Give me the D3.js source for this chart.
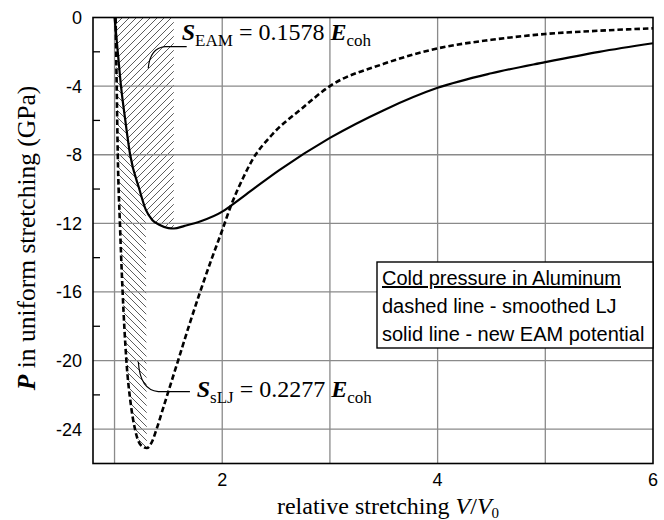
<!DOCTYPE html>
<html>
<head>
<meta charset="utf-8">
<script src="https://cdn.jsdelivr.net/npm/d3@7"></script>
<style>
  body { margin: 0; background: #fff; }
  svg { display: block; }
</style>
</head>
<body>
<svg id="chart" width="664" height="520"></svg>
<script>
// cold pressure curves (V/V0, GPa)
const ljX = [1.01, 1.02, 1.03, 1.05, 1.075, 1.11, 1.15, 1.19, 1.24, 1.3, 1.35, 1.39, 1.45, 1.5, 1.6, 1.7, 1.8, 1.9, 2.0, 2.085, 2.19, 2.28, 2.46, 2.74, 3.0, 3.5, 4.0, 4.5, 5.0, 5.5, 6.0];
const ljP = [0, -4, -8, -12, -16, -20, -22.5, -24, -24.9, -25.1, -24.7, -24.0, -22.8, -21.8, -19.8, -17.8, -15.9, -14.1, -12.4, -10.9, -9.4, -8.3, -6.85, -5.3, -4.0, -2.7, -1.8, -1.3, -0.96, -0.77, -0.63];
const eamX = [1.0, 1.03, 1.06, 1.1, 1.145, 1.23, 1.29, 1.35, 1.42, 1.5, 1.55, 1.65, 1.8, 2.0, 2.085, 2.3, 2.53, 3.0, 3.5, 4.0, 4.5, 5.0, 5.5, 6.0];
const eamP = [0, -2, -4, -6, -8, -10, -11.2, -11.8, -12.1, -12.28, -12.3, -12.15, -11.88, -11.32, -10.95, -9.95, -8.9, -7.02, -5.4, -4.1, -3.25, -2.6, -2.0, -1.5];

// hatched energy areas: upper x limit of each
const eamAreaMax = 1.55;
const ljAreaMax = 1.3;

const xGrid = [1, 2, 3, 4, 5];
const xTickLabels = [2, 4, 6];
const yTickLabels = [0, -4, -8, -12, -16, -20, -24];
const yMinor = [-2, -6, -10, -14, -18, -22];

const legendLines = ["Cold pressure in Aluminum", "dashed line - smoothed LJ", "solid line - new EAM potential"];

const svg = d3.select("#chart");
const margin = { top: 17.5, right: 11, bottom: 56.5, left: 93 };
const W = 664, H = 520;
const width = W - margin.left - margin.right;
const height = H - margin.top - margin.bottom;

const x = d3.scaleLinear().domain([0.8, 6]).range([margin.left, margin.left + width]);
const y = d3.scaleLinear().domain([-26, 0]).range([margin.top + height, margin.top]);

const lj = ljX.map((v, i) => [v, ljP[i]]);
const eam = eamX.map((v, i) => [v, eamP[i]]);

// hatch patterns
const defs = svg.append("defs");
const hatch = (id, d) => {
  defs.append("pattern")
    .attr("id", id)
    .attr("patternUnits", "userSpaceOnUse")
    .attr("width", 7).attr("height", 7)
    .append("path")
    .attr("d", d)
    .attr("stroke", "#333")
    .attr("stroke-width", 0.8);
};
hatch("hatchEam", "M-1,1 l2,-2 M0,7 l7,-7 M6,8 l2,-2");
hatch("hatchLj", "M-1,6 l2,2 M0,0 l7,7 M6,-1 l2,2");

// EAM area: between P = 0 and the solid curve
const eamArea = d3.area()
  .x(d => x(d[0]))
  .y0(y(0))
  .y1(d => y(d[1]))
  .curve(d3.curveMonotoneX);
svg.append("path")
  .datum(eam.filter(d => d[0] <= eamAreaMax))
  .attr("d", eamArea)
  .attr("fill", "url(#hatchEam)");

// sLJ area: between the solid curve and the dashed curve
const ljPoly = eam.filter(d => d[0] <= 1.29)
  .concat(lj.filter(d => d[0] <= ljAreaMax).reverse());
svg.append("path")
  .attr("d", d3.line().x(d => x(d[0])).y(d => y(d[1]))(ljPoly) + "Z")
  .attr("fill", "url(#hatchLj)");

// grid
const grid = svg.append("g").attr("stroke", "#8a8a8a").attr("stroke-width", 1.3);
grid.selectAll(".vx").data(xGrid).join("line")
  .attr("x1", d => x(d)).attr("x2", d => x(d))
  .attr("y1", y(-26)).attr("y2", y(0));
grid.selectAll(".hy").data(yTickLabels.filter(d => d !== 0)).join("line")
  .attr("x1", x(0.8)).attr("x2", x(6))
  .attr("y1", d => y(d)).attr("y2", d => y(d));

// minor ticks on the left frame
svg.append("g").selectAll("line").data(yMinor).join("line")
  .attr("x1", x(0.8)).attr("x2", x(0.8) + 7)
  .attr("y1", d => y(d)).attr("y2", d => y(d))
  .attr("stroke", "#000").attr("stroke-width", 1.3);

// tick labels
const sans = "Liberation Sans, Arial, sans-serif";
svg.append("g").selectAll("text").data(yTickLabels).join("text")
  .attr("x", x(0.8) - 11)
  .attr("y", d => y(d) + 6.5)
  .attr("text-anchor", "end")
  .attr("font-family", sans)
  .attr("font-size", 18)
  .text(d => d);
svg.append("g").selectAll("text").data(xTickLabels).join("text")
  .attr("x", d => x(d))
  .attr("y", y(-26) + 22)
  .attr("text-anchor", "middle")
  .attr("font-family", sans)
  .attr("font-size", 18)
  .text(d => d);

// curves
const line = d3.line()
  .x(d => x(d[0]))
  .y(d => y(d[1]))
  .curve(d3.curveMonotoneX);
svg.append("path")
  .datum(lj)
  .attr("d", line)
  .attr("fill", "none")
  .attr("stroke", "#000")
  .attr("stroke-width", 2.6)
  .attr("stroke-dasharray", "5.5,3");
svg.append("path")
  .datum(eam)
  .attr("d", line)
  .attr("fill", "none")
  .attr("stroke", "#000")
  .attr("stroke-width", 2.2);

// frame
svg.append("rect")
  .attr("x", x(0.8)).attr("y", y(0))
  .attr("width", width).attr("height", height)
  .attr("fill", "none").attr("stroke", "#000").attr("stroke-width", 1.6);

// axis titles
const serif = "Liberation Serif, Times New Roman, serif";
const xt = svg.append("text")
  .attr("x", 388).attr("y", 514)
  .attr("text-anchor", "middle")
  .attr("font-family", serif)
  .attr("font-size", 24);
xt.append("tspan").text("relative stretching ");
xt.append("tspan").attr("font-style", "italic").text("V");
xt.append("tspan").text("/");
xt.append("tspan").attr("font-style", "italic").text("V");
xt.append("tspan").attr("font-size", 15).attr("dy", 4).text("0");

const yt = svg.append("text")
  .attr("transform", `translate(35,238) rotate(-90)`)
  .attr("text-anchor", "middle")
  .attr("font-family", serif)
  .attr("font-size", 25.5);
yt.append("tspan").attr("font-style", "italic").attr("font-weight", "bold").text("P");
yt.append("tspan").text(" in uniform stretching (GPa)");

// energy annotations
const note = (px, py, sub, value) => {
  const t = svg.append("text")
    .attr("x", x(px)).attr("y", y(py))
    .attr("font-family", serif)
    .attr("font-size", 24);
  t.append("tspan").attr("font-style", "italic").attr("font-weight", "bold").text("S");
  t.append("tspan").attr("font-size", 17).attr("dy", 6).text(sub);
  t.append("tspan").attr("dy", -6).text(" = " + value + " ");
  t.append("tspan").attr("font-style", "italic").attr("font-weight", "bold").text("E");
  t.append("tspan").attr("font-size", 17).attr("dy", 6).text("coh");
};
note(1.624, -1.31, "EAM", "0.1578");
note(1.763, -22.12, "sLJ", "0.2277");

const leader = (pts) => {
  const [a, b, c, e] = pts.map(p => [x(p[0]), y(p[1])]);
  svg.append("path")
    .attr("d", `M${a}L${b}Q${c} ${e}`)
    .attr("fill", "none")
    .attr("stroke", "#000")
    .attr("stroke-width", 1.2);
};
leader([[1.67, -1.70], [1.469, -1.70], [1.33, -1.78], [1.313, -2.96]]);
leader([[1.70, -21.81], [1.406, -21.81], [1.236, -21.71], [1.221, -20.07]]);

// legend box
const lg = svg.append("g");
lg.append("rect")
  .attr("x", 377).attr("y", 262)
  .attr("width", x(6) - 377).attr("height", 86)
  .attr("fill", "#fff").attr("stroke", "#000").attr("stroke-width", 1.4);
lg.selectAll("text").data(legendLines).join("text")
  .attr("x", 382)
  .attr("y", (d, i) => 285 + i * 28)
  .attr("font-family", sans)
  .attr("font-size", 20)
  .attr("text-decoration", (d, i) => i === 0 ? "underline" : null)
  .text(d => d);
</script>
</body>
</html>
